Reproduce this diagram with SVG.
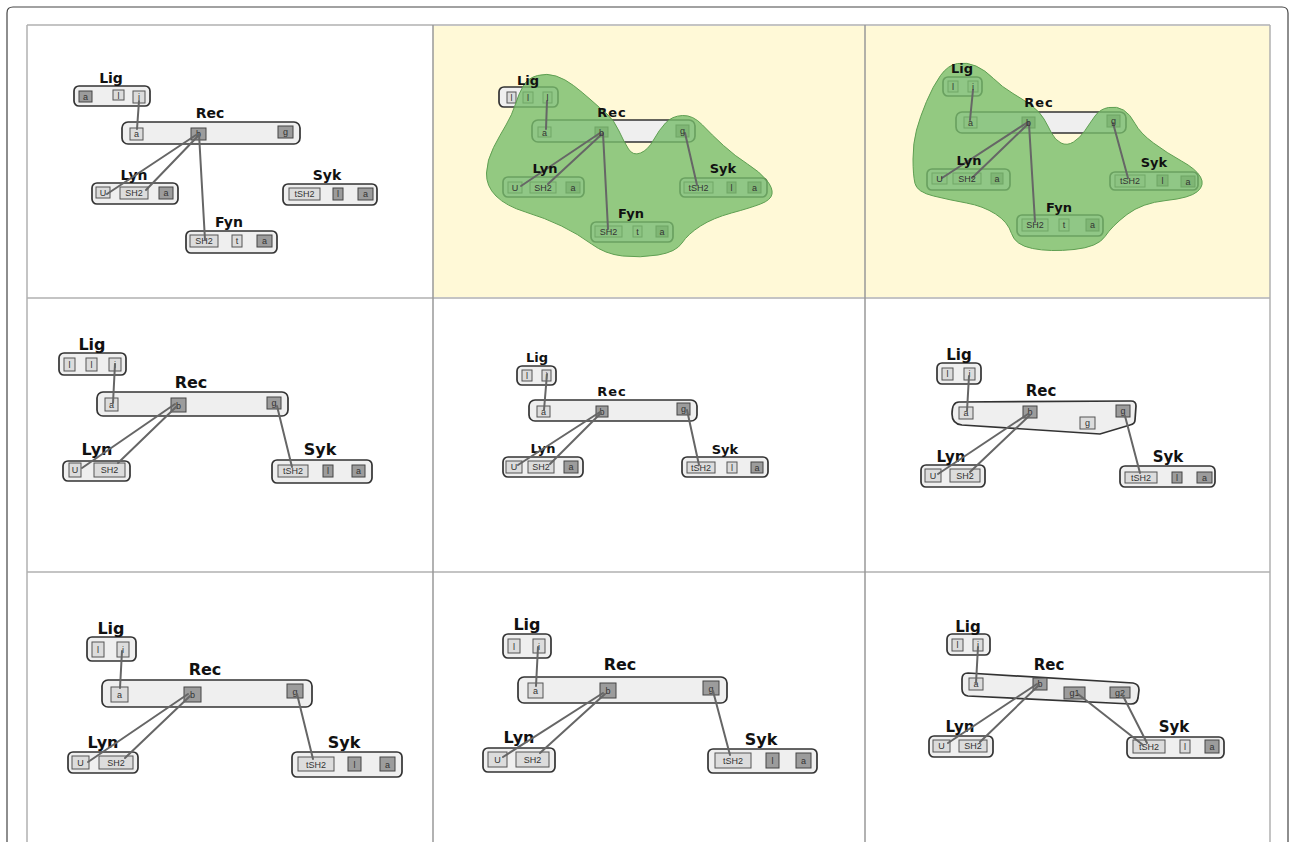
<svg xmlns="http://www.w3.org/2000/svg" width="1290" height="842" viewBox="0 0 1290 842">
<style>
.box{fill:#efefef;stroke:#333;stroke-width:1.7}
.sl{fill:#dcdcdc;stroke:#555;stroke-width:1}
.sd{fill:#9c9c9c;stroke:#444;stroke-width:1}
.st{font-family:"Liberation Sans",Arial,sans-serif;font-size:9px;fill:#333;text-anchor:middle}
.lb{font-family:"DejaVu Sans",Verdana,sans-serif;font-weight:bold;fill:#111;text-anchor:middle}
.ln{stroke:#666;stroke-width:2;fill:none;stroke-linecap:round}
.blob{fill:#78bd6b;fill-opacity:0.8;stroke:#5f9f52;stroke-width:1}
.gh{stroke:#c4c4c4;stroke-width:2}
.gv{stroke:#999;stroke-width:1.5}
</style>
<rect x="0" y="0" width="1290" height="842" fill="#fff"/>
<path d="M7,842 L7,13 Q7,7 13,7 L1282,7 Q1288,7 1288,13 L1288,842" fill="none" stroke="#444" stroke-width="1.2"/>
<rect x="433" y="25" width="432" height="273" fill="#fff9d7"/>
<rect x="865" y="25" width="405" height="273" fill="#fff9d7"/>
<g id="grid">
<line class="gh" x1="27" y1="25" x2="1270" y2="25"/>
<line class="gh" x1="27" y1="298" x2="1270" y2="298"/>
<line class="gh" x1="27" y1="572" x2="1270" y2="572"/>
<line class="gv" x1="27" y1="25" x2="27" y2="842" style="stroke:#b0b0b0"/>
<line class="gv" x1="433" y1="25" x2="433" y2="842"/>
<line class="gv" x1="865" y1="25" x2="865" y2="842"/>
<line class="gv" x1="1270" y1="25" x2="1270" y2="842" style="stroke:#b0b0b0"/>
</g>

<!-- Panel 1 -->
<g id="p1">
<g id="p1-lig"><rect class="box" x="74" y="86" width="76" height="20" rx="5"/>
<rect class="sd" x="79" y="91" width="13" height="11"/><text class="st" x="85.5" y="99.5">a</text>
<rect class="sl" x="113" y="90" width="11" height="10"/><text class="st" x="118.5" y="98.5">l</text>
<rect class="sl" x="133" y="91" width="12" height="12"/><text class="st" x="139" y="100">i</text>
<text class="lb" x="111" y="83" font-size="14">Lig</text></g>
<g id="p1-rec"><rect class="box" x="122" y="122" width="178" height="22" rx="6"/>
<rect class="sl" x="130" y="128" width="13" height="12"/><text class="st" x="136.5" y="137">a</text>
<rect class="sd" x="191" y="128" width="15" height="12"/><text class="st" x="198.5" y="137">b</text>
<rect class="sd" x="278" y="126" width="15" height="12"/><text class="st" x="285.5" y="135">g</text>
<text class="lb" x="210" y="118" font-size="14">Rec</text></g>
<g id="p1-lyn"><rect class="box" x="92" y="183" width="86" height="21" rx="5"/>
<rect class="sl" x="96" y="187" width="14" height="11"/><text class="st" x="103" y="195.5">U</text>
<rect class="sl" x="120" y="187" width="28" height="12"/><text class="st" x="134" y="196">SH2</text>
<rect class="sd" x="159" y="187" width="14" height="12"/><text class="st" x="166" y="196">a</text>
<text class="lb" x="134" y="180" font-size="14">Lyn</text></g>
<g id="p1-syk"><rect class="box" x="283" y="184" width="94" height="21" rx="5"/>
<rect class="sl" x="289" y="188" width="31" height="12"/><text class="st" x="304.5" y="197">tSH2</text>
<rect class="sd" x="333" y="188" width="10" height="12"/><text class="st" x="338" y="197">l</text>
<rect class="sd" x="358" y="188" width="15" height="12"/><text class="st" x="365.5" y="197">a</text>
<text class="lb" x="327" y="180" font-size="14">Syk</text></g>
<g id="p1-fyn"><rect class="box" x="186" y="231" width="91" height="22" rx="5"/>
<rect class="sl" x="190" y="235" width="28" height="12"/><text class="st" x="204" y="244">SH2</text>
<rect class="sl" x="232" y="235" width="10" height="12"/><text class="st" x="237" y="244">t</text>
<rect class="sd" x="257" y="235" width="15" height="12"/><text class="st" x="264.5" y="244">a</text>
<text class="lb" x="229" y="227" font-size="14">Fyn</text></g>
<g id="p1-connectors">
<line class="ln" x1="139" y1="101" x2="137" y2="129"/>
<line class="ln" x1="196" y1="135" x2="107" y2="194"/>
<line class="ln" x1="198" y1="136" x2="146" y2="190"/>
<line class="ln" x1="199" y1="134" x2="205" y2="240"/>
</g>
</g>

<!-- Panel 2 -->
<g id="p2">
<g id="p2-lig"><rect class="box" x="499" y="87" width="59" height="20" rx="5"/>
<rect class="sl" x="507" y="92" width="9" height="11"/>
<rect class="sl" x="523" y="92" width="10" height="11"/>
<rect class="sl" x="543" y="92" width="9" height="11"/></g>
<g id="p2-rec"><rect class="box" x="532" y="120" width="163" height="22" rx="6"/>
<rect class="sl" x="538" y="127" width="13" height="10"/>
<rect class="sd" x="595" y="127" width="13" height="10"/>
<rect class="sd" x="676" y="125" width="13" height="12"/></g>
<g id="p2-lyn"><rect class="box" x="503" y="177" width="81" height="20" rx="5"/>
<rect class="sl" x="508" y="182" width="14" height="11"/>
<rect class="sl" x="530" y="182" width="26" height="11"/>
<rect class="sd" x="566" y="182" width="14" height="11"/></g>
<g id="p2-syk"><rect class="box" x="680" y="178" width="87" height="19" rx="5"/>
<rect class="sl" x="684" y="182" width="29" height="11"/>
<rect class="sd" x="727" y="182" width="9" height="11"/>
<rect class="sd" x="748" y="182" width="13" height="11"/></g>
<g id="p2-fyn"><rect class="box" x="591" y="222" width="82" height="20" rx="5"/>
<rect class="sl" x="595" y="226" width="27" height="11"/>
<rect class="sl" x="633" y="226" width="9" height="11"/>
<rect class="sd" x="656" y="226" width="12" height="11"/></g>
<path id="p2-blob" class="blob" d="M537.5,75.5 Q547,73 556,76 Q565,79 573.5,85.5 Q582,92 591,100 Q600,108 607,114 Q614,120 619,131 Q624,142 628.5,149 Q633,156 640.5,153 Q648,150 653.5,140 Q659,130 665.5,123 Q672,116 682.5,115.5 Q693,115 702.5,125 Q712,135 723.5,145.5 Q735,156 747.5,164 Q760,172 766.5,180 Q773,188 772,194 Q771,200 760.5,204 Q750,208 731.5,213 Q713,218 700.5,226 Q688,234 682,243 Q676,252 658,255 Q640,258 622.5,256 Q605,254 591.5,244 Q578,234 561.5,226 Q545,218 525.5,212 Q506,206 496,196 Q486,186 486.5,173 Q487,160 493.5,147.5 Q500,135 506,125 Q512,115 515.5,104 Q519,93 523.5,85.5 Q528,78 537.5,75.5 Z"/>
<g id="p2-connectors">
<line class="ln" x1="547" y1="101" x2="546" y2="129"/>
<line class="ln" x1="600" y1="133" x2="521" y2="186"/>
<line class="ln" x1="602" y1="134" x2="548" y2="184"/>
<line class="ln" x1="603" y1="133" x2="608" y2="229"/>
<line class="ln" x1="685" y1="133" x2="697" y2="185"/>
</g>
<g id="p2-text">
<text class="st" x="511.5" y="100.5">l</text><text class="st" x="528" y="100.5">l</text><text class="st" x="547.5" y="100.5">l</text>
<text class="st" x="544.5" y="135.5">a</text><text class="st" x="601.5" y="135.5">b</text><text class="st" x="682.5" y="134">g</text>
<text class="st" x="515" y="190.5">U</text><text class="st" x="543" y="190.5">SH2</text><text class="st" x="573" y="190.5">a</text>
<text class="st" x="698.5" y="190.5">tSH2</text><text class="st" x="731.5" y="190.5">l</text><text class="st" x="754.5" y="190.5">a</text>
<text class="st" x="608.5" y="234.5">SH2</text><text class="st" x="637.5" y="234.5">t</text><text class="st" x="662" y="234.5">a</text>
<text class="lb" x="528" y="85" font-size="13">Lig</text>
<text class="lb" x="612" y="117" font-size="13" letter-spacing="1">Rec</text>
<text class="lb" x="545" y="173" font-size="13">Lyn</text>
<text class="lb" x="723" y="173" font-size="13">Syk</text>
<text class="lb" x="631" y="218" font-size="13">Fyn</text>
</g>
</g>

<!-- Panel 3 -->
<g id="p3">
<g id="p3-lig"><rect class="box" x="943" y="77" width="39" height="19" rx="5"/>
<rect class="sl" x="948" y="81" width="10" height="11"/>
<rect class="sl" x="968" y="81" width="10" height="11"/></g>
<g id="p3-rec"><rect class="box" x="956" y="112" width="170" height="21" rx="6"/>
<rect class="sl" x="964" y="117" width="13" height="11"/>
<rect class="sd" x="1022" y="117" width="13" height="11"/>
<rect class="sd" x="1107" y="115" width="13" height="12"/></g>
<g id="p3-lyn"><rect class="box" x="927" y="169" width="83" height="21" rx="5"/>
<rect class="sl" x="932" y="173" width="15" height="11"/>
<rect class="sl" x="953" y="173" width="28" height="11"/>
<rect class="sd" x="991" y="173" width="12" height="11"/></g>
<g id="p3-syk"><rect class="box" x="1110" y="172" width="88" height="18" rx="5"/>
<rect class="sl" x="1115" y="175" width="30" height="12"/>
<rect class="sd" x="1157" y="175" width="11" height="11"/>
<rect class="sd" x="1181" y="176" width="14" height="11"/></g>
<g id="p3-fyn"><rect class="box" x="1017" y="215" width="86" height="21" rx="5"/>
<rect class="sl" x="1022" y="219" width="26" height="12"/>
<rect class="sl" x="1059" y="219" width="10" height="12"/>
<rect class="sd" x="1086" y="219" width="13" height="12"/></g>
<path id="p3-blob" class="blob" d="M957.5,63.5 Q967,62 976,66 Q985,70 993.5,78.5 Q1002,87 1013,93.5 Q1024,100 1032,106 Q1040,112 1044,119 Q1048,126 1051.5,133 Q1055,140 1061,143 Q1067,146 1073.5,142 Q1080,138 1085,130.5 Q1090,123 1095,116 Q1100,109 1108.5,107.5 Q1117,106 1123.5,110 Q1130,114 1135,123.5 Q1140,133 1153.5,143 Q1167,153 1181.5,161 Q1196,169 1200.5,177 Q1205,185 1197.5,191.5 Q1190,198 1166,200.5 Q1142,203 1127,214.5 Q1112,226 1105,236.5 Q1098,247 1074,249.5 Q1050,252 1032.5,248.5 Q1015,245 1011.5,233.5 Q1008,222 995.5,214 Q983,206 966.5,203 Q950,200 933.5,196 Q917,192 915,183.5 Q913,175 913,159 Q913,143 916.5,130 Q920,117 926.5,101.5 Q933,86 940.5,75.5 Q948,65 957.5,63.5 Z"/>
<g id="p3-connectors">
<line class="ln" x1="973" y1="90" x2="970" y2="120"/>
<line class="ln" x1="1028" y1="122" x2="942" y2="178"/>
<line class="ln" x1="1029" y1="123" x2="972" y2="178"/>
<line class="ln" x1="1029" y1="124" x2="1035" y2="222"/>
<line class="ln" x1="1113" y1="123" x2="1128" y2="178"/>
</g>
<g id="p3-text">
<text class="st" x="953" y="89.5">l</text><text class="st" x="973" y="89.5">i</text>
<text class="st" x="970.5" y="125.5">a</text><text class="st" x="1028.5" y="125.5">b</text><text class="st" x="1113.5" y="124">g</text>
<text class="st" x="939.5" y="181.5">U</text><text class="st" x="967" y="181.5">SH2</text><text class="st" x="997" y="181.5">a</text>
<text class="st" x="1130" y="184">tSH2</text><text class="st" x="1162.5" y="183.5">l</text><text class="st" x="1188" y="184.5">a</text>
<text class="st" x="1035" y="228">SH2</text><text class="st" x="1064" y="228">t</text><text class="st" x="1092.5" y="228">a</text>
<text class="lb" x="962" y="73" font-size="13">Lig</text>
<text class="lb" x="1039" y="107" font-size="13" letter-spacing="1">Rec</text>
<text class="lb" x="969" y="165" font-size="13">Lyn</text>
<text class="lb" x="1154" y="167" font-size="13">Syk</text>
<text class="lb" x="1059" y="212" font-size="13">Fyn</text>
</g>
</g>

<!-- Panel 4 -->
<g id="p4">
<g id="p4-lig"><rect class="box" x="59" y="353" width="67" height="22" rx="5"/>
<rect class="sl" x="64" y="358" width="11" height="13"/><text class="st" x="69.5" y="368">l</text>
<rect class="sl" x="86" y="358" width="11" height="13"/><text class="st" x="91.5" y="368">l</text>
<rect class="sl" x="109" y="358" width="12" height="13"/><text class="st" x="115" y="368">i</text>
<text class="lb" x="92" y="350" font-size="16">Lig</text></g>
<g id="p4-rec"><rect class="box" x="97" y="392" width="191" height="24" rx="6"/>
<rect class="sl" x="105" y="398" width="13" height="13"/><text class="st" x="111.5" y="408">a</text>
<rect class="sd" x="171" y="398" width="15" height="14"/><text class="st" x="178.5" y="408.5">b</text>
<rect class="sd" x="267" y="397" width="14" height="12"/><text class="st" x="274" y="406">g</text>
<text class="lb" x="191" y="388" font-size="16">Rec</text></g>
<g id="p4-lyn"><rect class="box" x="63" y="461" width="67" height="20" rx="5"/>
<rect class="sl" x="69" y="463" width="12" height="14"/><text class="st" x="75" y="473">U</text>
<rect class="sl" x="94" y="463" width="31" height="14"/><text class="st" x="109.5" y="473">SH2</text>
<text class="lb" x="97" y="455" font-size="16">Lyn</text></g>
<g id="p4-syk"><rect class="box" x="272" y="460" width="100" height="23" rx="5"/>
<rect class="sl" x="278" y="465" width="30" height="12"/><text class="st" x="293" y="474">tSH2</text>
<rect class="sd" x="323" y="465" width="10" height="12"/><text class="st" x="328" y="474">l</text>
<rect class="sd" x="352" y="465" width="13" height="12"/><text class="st" x="358.5" y="474">a</text>
<text class="lb" x="320" y="455" font-size="16">Syk</text></g>
<g id="p4-connectors">
<line class="ln" x1="115" y1="364" x2="113" y2="403"/>
<line class="ln" x1="175" y1="404" x2="82" y2="468"/>
<line class="ln" x1="177" y1="406" x2="118" y2="463"/>
<line class="ln" x1="277" y1="406" x2="292" y2="467"/>
</g>
</g>

<!-- Panel 5 -->
<g id="p5">
<g id="p5-lig"><rect class="box" x="517" y="366" width="39" height="19" rx="5"/>
<rect class="sl" x="522" y="370" width="10" height="11"/><text class="st" x="527" y="378.5">l</text>
<rect class="sl" x="542" y="370" width="9" height="11"/><text class="st" x="546.5" y="378.5">i</text>
<text class="lb" x="537" y="362" font-size="13">Lig</text></g>
<g id="p5-rec"><rect class="box" x="529" y="400" width="168" height="21" rx="6"/>
<rect class="sl" x="537" y="406" width="13" height="11"/><text class="st" x="543.5" y="414.5">a</text>
<rect class="sd" x="596" y="406" width="12" height="11"/><text class="st" x="602" y="414.5">b</text>
<rect class="sd" x="677" y="403" width="13" height="12"/><text class="st" x="683.5" y="412">g</text>
<text class="lb" x="612" y="396" font-size="13" letter-spacing="1">Rec</text></g>
<g id="p5-lyn"><rect class="box" x="503" y="457" width="80" height="20" rx="5"/>
<rect class="sl" x="506" y="461" width="16" height="12"/><text class="st" x="514" y="470">U</text>
<rect class="sl" x="528" y="461" width="26" height="12"/><text class="st" x="541" y="470">SH2</text>
<rect class="sd" x="564" y="461" width="14" height="12"/><text class="st" x="571" y="470">a</text>
<text class="lb" x="543" y="453" font-size="13">Lyn</text></g>
<g id="p5-syk"><rect class="box" x="682" y="457" width="86" height="20" rx="5"/>
<rect class="sl" x="687" y="462" width="28" height="11"/><text class="st" x="701" y="470.5">tSH2</text>
<rect class="sl" x="727" y="462" width="10" height="11"/><text class="st" x="732" y="470.5">l</text>
<rect class="sd" x="751" y="462" width="12" height="11"/><text class="st" x="757" y="470.5">a</text>
<text class="lb" x="725" y="454" font-size="13">Syk</text></g>
<g id="p5-connectors">
<line class="ln" x1="547" y1="374" x2="544" y2="410"/>
<line class="ln" x1="600" y1="412" x2="518" y2="465"/>
<line class="ln" x1="601" y1="413" x2="550" y2="464"/>
<line class="ln" x1="687" y1="410" x2="699" y2="465"/>
</g>
</g>

<!-- Panel 6 -->
<g id="p6">
<g id="p6-lig"><rect class="box" x="937" y="363" width="44" height="21" rx="5"/>
<rect class="sl" x="942" y="368" width="11" height="12"/><text class="st" x="947.5" y="377">l</text>
<rect class="sl" x="964" y="368" width="11" height="12"/><text class="st" x="969.5" y="377">i</text>
<text class="lb" x="959" y="360" font-size="15">Lig</text></g>
<g id="p6-rec"><path class="box" d="M959,402 L1131,401 Q1136,401 1136,406 L1135,420 Q1135,424 1130,425 L1100,434 L962,425 Q952,424 952,414 Q952,402 959,402 Z"/>
<rect class="sl" x="959" y="407" width="14" height="12"/><text class="st" x="966" y="416">a</text>
<rect class="sd" x="1023" y="406" width="14" height="12"/><text class="st" x="1030" y="415">b</text>
<rect class="sl" x="1080" y="417" width="15" height="12"/><text class="st" x="1087.5" y="426">g</text>
<rect class="sd" x="1116" y="405" width="14" height="12"/><text class="st" x="1123" y="414">g</text>
<text class="lb" x="1041" y="396" font-size="15">Rec</text></g>
<g id="p6-lyn"><rect class="box" x="921" y="465" width="64" height="22" rx="5"/>
<rect class="sl" x="925" y="469" width="16" height="13"/><text class="st" x="933" y="478.5">U</text>
<rect class="sl" x="950" y="469" width="30" height="13"/><text class="st" x="965" y="478.5">SH2</text>
<text class="lb" x="951" y="462" font-size="15">Lyn</text></g>
<g id="p6-syk"><rect class="box" x="1120" y="466" width="95" height="21" rx="5"/>
<rect class="sl" x="1125" y="472" width="32" height="11"/><text class="st" x="1141" y="480.5">tSH2</text>
<rect class="sd" x="1172" y="472" width="10" height="11"/><text class="st" x="1177" y="480.5">l</text>
<rect class="sd" x="1197" y="472" width="15" height="11"/><text class="st" x="1204.5" y="480.5">a</text>
<text class="lb" x="1168" y="462" font-size="15">Syk</text></g>
<g id="p6-connectors">
<line class="ln" x1="969" y1="376" x2="967" y2="411"/>
<line class="ln" x1="1028" y1="414" x2="938" y2="474"/>
<line class="ln" x1="1030" y1="415" x2="970" y2="472"/>
<line class="ln" x1="1125" y1="416" x2="1140" y2="473"/>
</g>
</g>

<!-- Panel 7 -->
<g id="p7">
<g id="p7-lig"><rect class="box" x="87" y="637" width="49" height="24" rx="5"/>
<rect class="sl" x="92" y="642" width="12" height="15"/><text class="st" x="98" y="653">l</text>
<rect class="sl" x="117" y="642" width="12" height="15"/><text class="st" x="123" y="653">i</text>
<text class="lb" x="111" y="634" font-size="16">Lig</text></g>
<g id="p7-rec"><rect class="box" x="102" y="680" width="210" height="27" rx="6"/>
<rect class="sl" x="111" y="687" width="17" height="15"/><text class="st" x="119.5" y="698">a</text>
<rect class="sd" x="184" y="687" width="17" height="15"/><text class="st" x="192.5" y="698">b</text>
<rect class="sd" x="287" y="684" width="16" height="14"/><text class="st" x="295" y="694.5">g</text>
<text class="lb" x="205" y="675" font-size="16">Rec</text></g>
<g id="p7-lyn"><rect class="box" x="68" y="752" width="70" height="21" rx="5"/>
<rect class="sl" x="72" y="756" width="17" height="13"/><text class="st" x="80.5" y="766">U</text>
<rect class="sl" x="99" y="756" width="34" height="13"/><text class="st" x="116" y="766">SH2</text>
<text class="lb" x="103" y="748" font-size="16">Lyn</text></g>
<g id="p7-syk"><rect class="box" x="292" y="752" width="110" height="25" rx="5"/>
<rect class="sl" x="298" y="757" width="36" height="14"/><text class="st" x="316" y="767.5">tSH2</text>
<rect class="sd" x="348" y="757" width="13" height="14"/><text class="st" x="354.5" y="767.5">l</text>
<rect class="sd" x="380" y="757" width="15" height="14"/><text class="st" x="387.5" y="767.5">a</text>
<text class="lb" x="344" y="748" font-size="16">Syk</text></g>
<g id="p7-connectors">
<line class="ln" x1="122" y1="651" x2="120" y2="688"/>
<line class="ln" x1="188" y1="694" x2="88" y2="762"/>
<line class="ln" x1="190" y1="696" x2="125" y2="758"/>
<line class="ln" x1="297" y1="694" x2="313" y2="759"/>
</g>
</g>

<!-- Panel 8 -->
<g id="p8">
<g id="p8-lig"><rect class="box" x="503" y="634" width="48" height="24" rx="5"/>
<rect class="sl" x="508" y="639" width="12" height="14"/><text class="st" x="514" y="649.5">l</text>
<rect class="sl" x="533" y="639" width="12" height="14"/><text class="st" x="539" y="649.5">i</text>
<text class="lb" x="527" y="630" font-size="16">Lig</text></g>
<g id="p8-rec"><rect class="box" x="518" y="677" width="209" height="26" rx="6"/>
<rect class="sl" x="528" y="683" width="15" height="15"/><text class="st" x="535.5" y="694">a</text>
<rect class="sd" x="600" y="683" width="16" height="15"/><text class="st" x="608" y="694">b</text>
<rect class="sd" x="703" y="681" width="16" height="14"/><text class="st" x="711" y="691.5">g</text>
<text class="lb" x="620" y="670" font-size="16">Rec</text></g>
<g id="p8-lyn"><rect class="box" x="483" y="748" width="72" height="24" rx="5"/>
<rect class="sl" x="488" y="752" width="19" height="15"/><text class="st" x="497.5" y="763">U</text>
<rect class="sl" x="516" y="752" width="33" height="15"/><text class="st" x="532.5" y="763">SH2</text>
<text class="lb" x="519" y="743" font-size="16">Lyn</text></g>
<g id="p8-syk"><rect class="box" x="708" y="749" width="109" height="24" rx="5"/>
<rect class="sl" x="715" y="753" width="36" height="15"/><text class="st" x="733" y="764">tSH2</text>
<rect class="sd" x="766" y="753" width="13" height="15"/><text class="st" x="772.5" y="764">l</text>
<rect class="sd" x="796" y="753" width="15" height="15"/><text class="st" x="803.5" y="764">a</text>
<text class="lb" x="761" y="745" font-size="16">Syk</text></g>
<g id="p8-connectors">
<line class="ln" x1="538" y1="647" x2="536" y2="686"/>
<line class="ln" x1="603" y1="693" x2="503" y2="757"/>
<line class="ln" x1="605" y1="694" x2="540" y2="753"/>
<line class="ln" x1="713" y1="691" x2="730" y2="755"/>
</g>
</g>

<!-- Panel 9 -->
<g id="p9">
<g id="p9-lig"><rect class="box" x="947" y="634" width="43" height="21" rx="5"/>
<rect class="sl" x="952" y="639" width="11" height="12"/><text class="st" x="957.5" y="648">l</text>
<rect class="sl" x="973" y="639" width="10" height="12"/><text class="st" x="978" y="648">i</text>
<text class="lb" x="968" y="632" font-size="15">Lig</text></g>
<g id="p9-rec"><path class="box" d="M968,673 L1133,683 Q1139,684 1139,690 L1138,698 Q1137,704 1131,704 L968,696 Q962,695 962,689 L962,679 Q962,673 968,673 Z"/>
<rect class="sl" x="969" y="678" width="14" height="12"/><text class="st" x="976" y="687">a</text>
<rect class="sd" x="1033" y="678" width="14" height="12"/><text class="st" x="1040" y="687">b</text>
<rect class="sd" x="1064" y="687" width="21" height="12"/><text class="st" x="1074.5" y="696">g1</text>
<rect class="sd" x="1110" y="687" width="20" height="11"/><text class="st" x="1120" y="695.5">g2</text>
<text class="lb" x="1049" y="670" font-size="15">Rec</text></g>
<g id="p9-lyn"><rect class="box" x="929" y="736" width="64" height="21" rx="5"/>
<rect class="sl" x="933" y="740" width="17" height="12"/><text class="st" x="941.5" y="749">U</text>
<rect class="sl" x="959" y="740" width="28" height="12"/><text class="st" x="973" y="749">SH2</text>
<text class="lb" x="960" y="732" font-size="15">Lyn</text></g>
<g id="p9-syk"><rect class="box" x="1127" y="737" width="97" height="21" rx="5"/>
<rect class="sl" x="1133" y="740" width="32" height="13"/><text class="st" x="1149" y="749.5">tSH2</text>
<rect class="sl" x="1180" y="740" width="10" height="13"/><text class="st" x="1185" y="749.5">l</text>
<rect class="sd" x="1205" y="740" width="14" height="13"/><text class="st" x="1212" y="749.5">a</text>
<text class="lb" x="1174" y="732" font-size="15">Syk</text></g>
<g id="p9-connectors">
<line class="ln" x1="978" y1="647" x2="976" y2="683"/>
<line class="ln" x1="1037" y1="684" x2="948" y2="743"/>
<line class="ln" x1="1039" y1="685" x2="980" y2="742"/>
<line class="ln" x1="1078" y1="694" x2="1143" y2="745"/>
<line class="ln" x1="1122" y1="694" x2="1147" y2="743"/>
</g>
</g>
</svg>
